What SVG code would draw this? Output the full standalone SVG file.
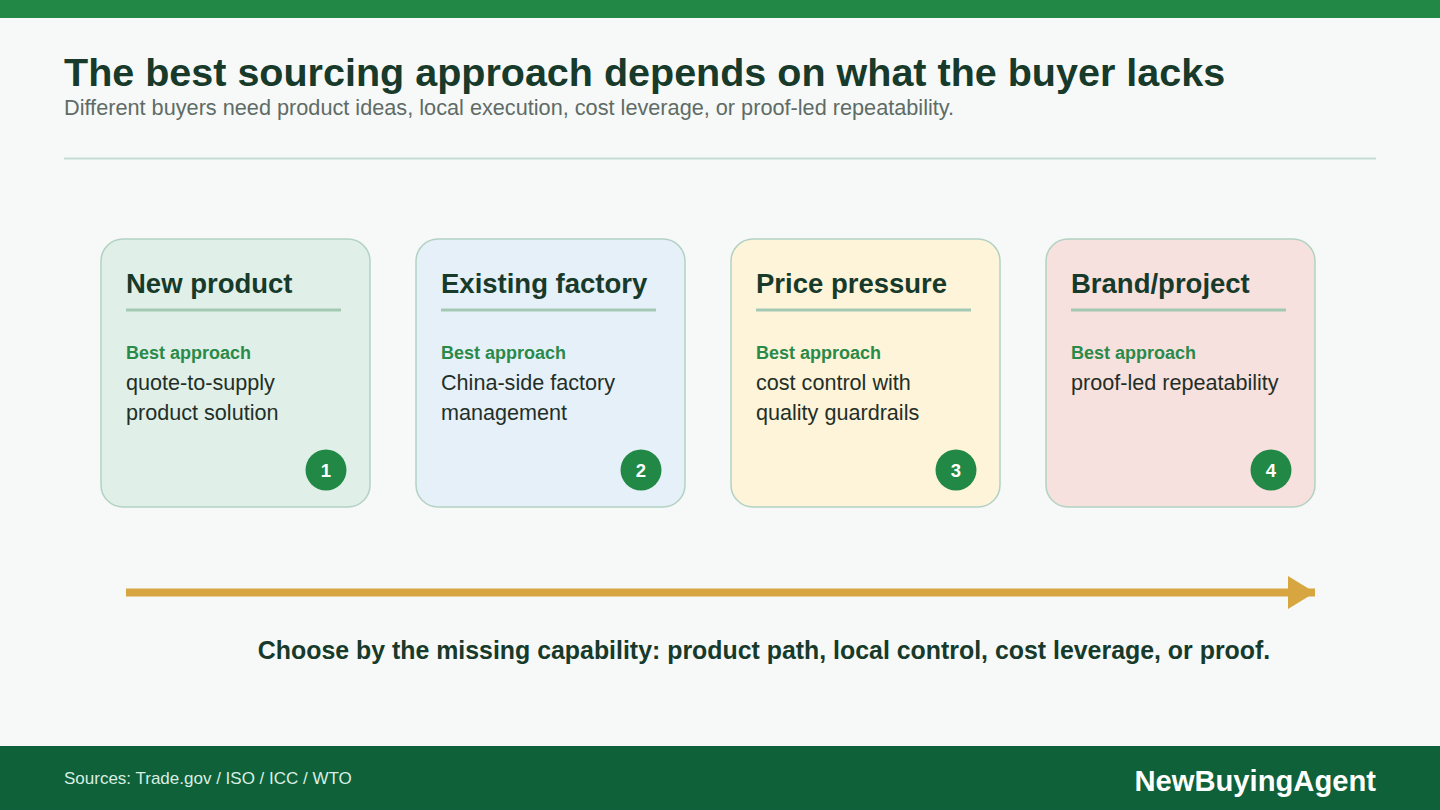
<svg xmlns="http://www.w3.org/2000/svg" width="1440" height="810" viewBox="0 0 1440 810">
<defs>
<style>
.t{font-family:"Liberation Sans",Arial,sans-serif}
.card{stroke:#b3d2c3;stroke-width:1.5}
.ct{font-size:27.5px;font-weight:bold;fill:#173a2b}
.ul{stroke:#a3c9b4;stroke-width:3}
.ba{font-size:18px;font-weight:bold;fill:#2a8a4a}
.bd{font-size:21.6px;fill:#1f2f28}
.nc{fill:#218845}
.nn{font-size:18.5px;font-weight:bold;fill:#ffffff;text-anchor:middle}
</style>
</defs>
<rect width="1440" height="810" fill="#f6f9f8"/>
<rect width="1440" height="18" fill="#218845"/>
<text class="t" x="64" y="86" font-size="39.5" font-weight="bold" fill="#173a2b">The best sourcing approach depends on what the buyer lacks</text>
<text class="t" x="64" y="115" font-size="21.7" fill="#5f6b66">Different buyers need product ideas, local execution, cost leverage, or proof-led repeatability.</text>
<line x1="64" y1="158.5" x2="1376" y2="158.5" stroke="#c5dcd3" stroke-width="2"/>

<g id="node1">
<rect class="card" x="101" y="239" width="269" height="268" rx="22" fill="#e0f0e8"/>
<text class="t ct" x="126" y="293">New product</text>
<line class="ul" x1="126" y1="310" x2="341" y2="310"/>
<text class="t ba" x="126" y="359">Best approach</text>
<text class="t bd" x="126" y="390">quote-to-supply</text>
<text class="t bd" x="126" y="420">product solution</text>
<circle class="nc" cx="326" cy="470" r="20.5"/>
<text class="t nn" x="326" y="476.5">1</text>
</g>
<g id="node2">
<rect class="card" x="416" y="239" width="269" height="268" rx="22" fill="#e6f0f8"/>
<text class="t ct" x="441" y="293">Existing factory</text>
<line class="ul" x1="441" y1="310" x2="656" y2="310"/>
<text class="t ba" x="441" y="359">Best approach</text>
<text class="t bd" x="441" y="390">China-side factory</text>
<text class="t bd" x="441" y="420">management</text>
<circle class="nc" cx="641" cy="470" r="20.5"/>
<text class="t nn" x="641" y="476.5">2</text>
</g>
<g id="node3">
<rect class="card" x="731" y="239" width="269" height="268" rx="22" fill="#fdf4d9"/>
<text class="t ct" x="756" y="293">Price pressure</text>
<line class="ul" x1="756" y1="310" x2="971" y2="310"/>
<text class="t ba" x="756" y="359">Best approach</text>
<text class="t bd" x="756" y="390">cost control with</text>
<text class="t bd" x="756" y="420">quality guardrails</text>
<circle class="nc" cx="956" cy="470" r="20.5"/>
<text class="t nn" x="956" y="476.5">3</text>
</g>
<g id="node4">
<rect class="card" x="1046" y="239" width="269" height="268" rx="22" fill="#f7e1de"/>
<text class="t ct" x="1071" y="293">Brand/project</text>
<line class="ul" x1="1071" y1="310" x2="1286" y2="310"/>
<text class="t ba" x="1071" y="359">Best approach</text>
<text class="t bd" x="1071" y="390">proof-led repeatability</text>
<circle class="nc" cx="1271" cy="470" r="20.5"/>
<text class="t nn" x="1271" y="476.5">4</text>
</g>

<g id="connectors">
<line x1="126" y1="592.5" x2="1315" y2="592.5" stroke="#d8a640" stroke-width="8"/>
<path d="M1288,576 L1315,592.5 L1288,609 Z" fill="#d8a640"/>
</g>

<text class="t" x="764" y="659" font-size="24.9" font-weight="bold" fill="#173a2b" text-anchor="middle">Choose by the missing capability: product path, local control, cost leverage, or proof.</text>

<rect x="0" y="746" width="1440" height="64" fill="#0e6139"/>
<text class="t" x="64" y="784" font-size="17" fill="#d9eee3">Sources: Trade.gov / ISO / ICC / WTO</text>
<text class="t" x="1376" y="791" font-size="29.2" font-weight="bold" fill="#ffffff" text-anchor="end">NewBuyingAgent</text>
</svg>
